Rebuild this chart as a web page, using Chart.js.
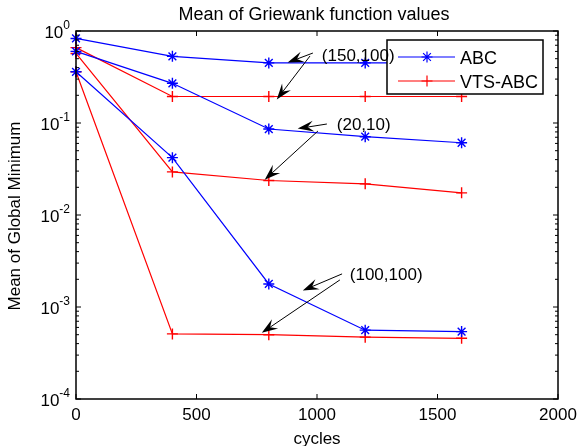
<!DOCTYPE html>
<html lang="en">
<head>
  <meta charset="UTF-8" />
  <title>Mean of Griewank function values</title>
  <script src="https://cdn.jsdelivr.net/npm/chart.js"></script>
  <style>
    html, body { margin: 0; padding: 0; background: #fff; }
    #chart { display: block; }
  </style>
</head>
<body>
  <canvas id="chart" width="577" height="446"></canvas>
  <script>
    // data
    const cycles = [0, 400, 800, 1200, 1600];
    const abc150 = [0.83, 0.53, 0.45, 0.45, 0.45];
    const abc20 = [0.60, 0.27, 0.086, 0.071, 0.061];
    const abc100 = [0.36, 0.042, 0.00178, 0.00056, 0.00054];
    const vts150 = [0.66, 0.194, 0.194, 0.194, 0.194];
    const vts20 = [0.57, 0.0294, 0.0237, 0.0218, 0.0174];
    const vts100 = [0.36, 0.00051, 0.00050, 0.00047, 0.000457];

    const xTicks = [0, 500, 1000, 1500, 2000];
    const yExps = [0, -1, -2, -3, -4];

    // annotation labels and arrows, in data coordinates: [tail, tip]
    const notes = [
      { text: '(150,100)', x: 1020, y: 0.53,
        arrows: [[[983, 0.576], [878, 0.454]], [[971, 0.535], [833, 0.18]]] },
      { text: '(20,10)', x: 1082, y: 0.094,
        arrows: [[[1041, 0.0975], [920, 0.0869]], [[1004, 0.0819], [783, 0.0242]]] },
      { text: '(100,100)', x: 1136, y: 0.0022,
        arrows: [[[1104, 0.00229], [941, 0.00151]], [[1095, 0.00197], [771, 0.000524]]] }
    ];

    const FONT = '"Liberation Sans", Arial, Helvetica, sans-serif';
    const BLUE = '#0000ff';
    const RED = '#ff0000';

    function series(vals) {
      return vals.map((v, i) => ({ x: cycles[i], y: v }));
    }

    function line(vals, color, style) {
      return {
        data: series(vals),
        borderColor: color,
        borderWidth: 1.2,
        pointStyle: style,
        pointRadius: 5.5,
        pointBorderColor: color,
        pointBackgroundColor: color,
        pointBorderWidth: 1.4,
        fill: false,
        tension: 0,
        clip: false
      };
    }

    function arrow(ctx, x0, y0, x1, y1) {
      const a = Math.atan2(y1 - y0, x1 - x0);
      const ux = Math.cos(a), uy = Math.sin(a);
      const nx = -uy, ny = ux;
      const len = 16, hw = 5.5, notch = 10;
      ctx.beginPath();
      ctx.moveTo(x0, y0);
      ctx.lineTo(x1 - ux * notch, y1 - uy * notch);
      ctx.stroke();
      ctx.beginPath();
      ctx.moveTo(x1, y1);
      ctx.lineTo(x1 - ux * len + nx * hw, y1 - uy * len + ny * hw);
      ctx.lineTo(x1 - ux * notch, y1 - uy * notch);
      ctx.lineTo(x1 - ux * len - nx * hw, y1 - uy * len - ny * hw);
      ctx.closePath();
      ctx.fill();
    }

    const frame = {
      id: 'frame',
      afterDraw(chart) {
        const ctx = chart.ctx;
        const a = chart.chartArea;
        const xs = chart.scales.x, ys = chart.scales.y;
        ctx.save();
        ctx.strokeStyle = '#000';
        ctx.fillStyle = '#000';

        // box
        ctx.lineWidth = 1.5;
        ctx.strokeRect(a.left, a.top, a.right - a.left, a.bottom - a.top);

        // x ticks
        ctx.lineWidth = 1;
        ctx.font = '17px ' + FONT;
        ctx.textAlign = 'center';
        ctx.textBaseline = 'alphabetic';
        xTicks.forEach(v => {
          const px = xs.getPixelForValue(v);
          ctx.beginPath();
          ctx.moveTo(px, a.bottom); ctx.lineTo(px, a.bottom - 5);
          ctx.moveTo(px, a.top); ctx.lineTo(px, a.top + 5);
          ctx.stroke();
          ctx.fillText(String(v), px, 420);
        });

        // y ticks, major and minor
        yExps.forEach(e => {
          const py = ys.getPixelForValue(Math.pow(10, e));
          ctx.beginPath();
          ctx.moveTo(a.left, py); ctx.lineTo(a.left + 5, py);
          ctx.moveTo(a.right, py); ctx.lineTo(a.right - 5, py);
          ctx.stroke();
          if (e < 0) {
            for (let m = 2; m <= 9; m++) {
              const pm = ys.getPixelForValue(m * Math.pow(10, e));
              ctx.beginPath();
              ctx.moveTo(a.left, pm); ctx.lineTo(a.left + 3, pm);
              ctx.moveTo(a.right, pm); ctx.lineTo(a.right - 3, pm);
              ctx.stroke();
            }
          }
          // label 10^e
          const sup = String(e);
          ctx.font = '12px ' + FONT;
          const sw = ctx.measureText(sup).width;
          ctx.font = '17px ' + FONT;
          const bw = ctx.measureText('10').width;
          const right = 70;
          ctx.textAlign = 'left';
          ctx.fillText('10', right - sw - bw, py + 6.5);
          ctx.font = '12px ' + FONT;
          ctx.fillText(sup, right - sw, py - 2);
        });

        // title and axis titles
        ctx.font = '18px ' + FONT;
        ctx.textAlign = 'center';
        ctx.fillText('Mean of Griewank function values', 314, 20);
        ctx.font = '17px ' + FONT;
        ctx.fillText('cycles', 317, 444);
        ctx.save();
        ctx.translate(20, 216);
        ctx.rotate(-Math.PI / 2);
        ctx.fillText('Mean of Global Minimum', 0, 0);
        ctx.restore();

        // legend
        const lx = 387, ly = 40, lw = 156, lh = 54;
        ctx.fillStyle = '#fff';
        ctx.fillRect(lx, ly, lw, lh);
        ctx.lineWidth = 1.5;
        ctx.strokeStyle = '#000';
        ctx.strokeRect(lx, ly, lw, lh);
        [[BLUE, 'star', 'ABC', 57], [RED, 'cross', 'VTS-ABC', 81]].forEach(it => {
          ctx.strokeStyle = it[0];
          ctx.fillStyle = it[0];
          ctx.lineWidth = 1.2;
          ctx.beginPath();
          ctx.moveTo(398, it[3]); ctx.lineTo(455, it[3]);
          ctx.stroke();
          Chart.helpers.drawPoint(ctx, { pointStyle: it[1], radius: 5.5, borderWidth: 1.4, rotation: 0 }, 427, it[3]);
          ctx.fillStyle = '#000';
          ctx.font = '18px ' + FONT;
          ctx.textAlign = 'left';
          ctx.fillText(it[2], 460, it[3] + 6.5);
        });

        // annotations, drawn over the legend
        ctx.strokeStyle = '#000';
        ctx.fillStyle = '#000';
        ctx.lineWidth = 1;
        notes.forEach(n => {
          n.arrows.forEach(ar => arrow(ctx,
            xs.getPixelForValue(ar[0][0]), ys.getPixelForValue(ar[0][1]),
            xs.getPixelForValue(ar[1][0]), ys.getPixelForValue(ar[1][1])));
          ctx.font = '17px ' + FONT;
          ctx.textAlign = 'left';
          ctx.textBaseline = 'middle';
          ctx.fillText(n.text, xs.getPixelForValue(n.x), ys.getPixelForValue(n.y));
          ctx.textBaseline = 'alphabetic';
        });
        ctx.restore();
      }
    };

    new Chart(document.getElementById('chart').getContext('2d'), {
      type: 'line',
      data: {
        datasets: [
          line(abc150, BLUE, 'star'),
          line(abc20, BLUE, 'star'),
          line(abc100, BLUE, 'star'),
          line(vts150, RED, 'cross'),
          line(vts20, RED, 'cross'),
          line(vts100, RED, 'cross')
        ]
      },
      options: {
        responsive: false,
        animation: false,
        devicePixelRatio: 1,
        layout: { padding: { left: 76, right: 19, top: 31, bottom: 47 } },
        plugins: { legend: { display: false }, title: { display: false }, tooltip: { enabled: false } },
        scales: {
          x: { type: 'linear', min: 0, max: 2000, display: false },
          y: { type: 'logarithmic', min: 1e-4, max: 1, display: false }
        }
      },
      plugins: [frame]
    });
  </script>
</body>
</html>
